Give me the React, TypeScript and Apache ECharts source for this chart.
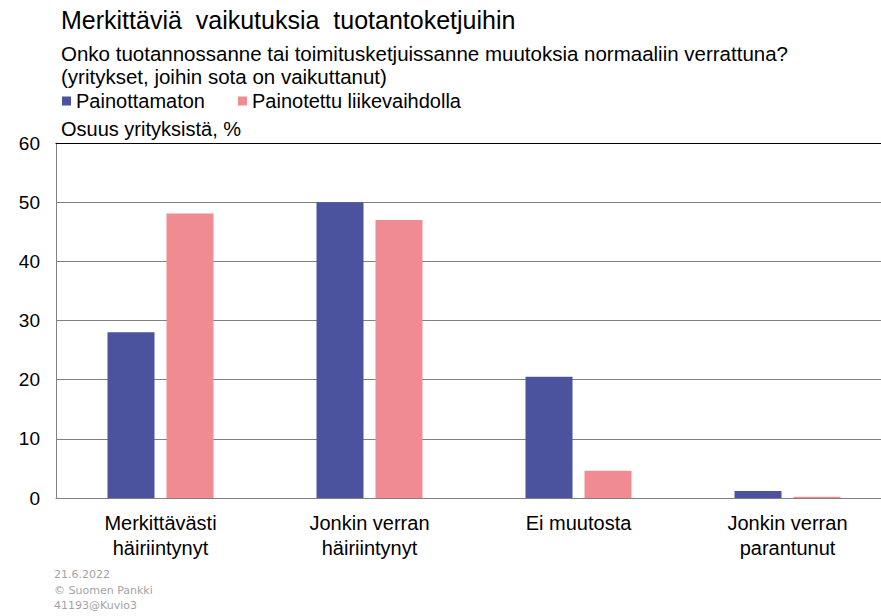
import React, { useEffect, useRef } from "react";
import * as echarts from "echarts";

const categories = ["Merkittävästi\nhäiriintynyt", "Jonkin verran\nhäiriintynyt", "Ei muutosta", "Jonkin verran\nparantunut"];
const seriesNames = ["Painottamaton", "Painotettu liikevaihdolla"];
const unweighted = [28, 50, 20.5, 1.2];
const weighted = [48.1, 47, 4.6, 0.2];
const yTicks = { min: 0, max: 60, interval: 10 };
const titleText = "Merkittäviä  vaikutuksia  tuotantoketjuihin";
const subtitleLines = [
  "Onko tuotannossanne tai toimitusketjuissanne muutoksia normaaliin verrattuna?",
  "(yritykset, joihin sota on vaikuttanut)",
];
const unitLabel = "Osuus yrityksistä, %";
const footerLines = ["21.6.2022", "© Suomen Pankki", "41193@Kuvio3"];

const BLUE = "#4b539f";
const PINK = "#ef8b91";
const FONT = "'Liberation Sans', Arial, sans-serif";

export default function App() {
  const ref = useRef<HTMLDivElement>(null);
  useEffect(() => {
    if (!ref.current) return;
    const chart = echarts.init(ref.current, null, { renderer: "svg" });
    const ts = (size: number) => ({ fontSize: size, fontWeight: "normal", color: "#000", fontFamily: FONT });
    chart.setOption({
      animation: false,
      backgroundColor: "#ffffff",
      textStyle: { fontFamily: FONT },
      title: [
        { text: titleText, left: 61, top: 7, padding: 0, textStyle: ts(25) },
        { text: subtitleLines[0], left: 61, top: 43, padding: 0, textStyle: ts(20.5) },
        { text: subtitleLines[1], left: 61, top: 66, padding: 0, textStyle: ts(20.5) },
        { text: unitLabel, left: 61, top: 119, padding: 0, textStyle: ts(20) },
      ],
      legend: {
        left: 62,
        top: 91,
        padding: 0,
        icon: "rect",
        itemWidth: 9,
        itemHeight: 9,
        itemGap: 33,
        textStyle: { fontSize: 20, color: "#000", fontFamily: FONT },
        data: seriesNames,
      },
      grid: { left: 56, width: 836, top: 143, bottom: 118, containLabel: false, outerBoundsMode: "none" },
      xAxis: [
        {
          type: "category",
          data: categories,
          axisLine: { lineStyle: { color: "#808080", width: 1 } },
          axisTick: { show: false },
          axisLabel: { fontSize: 20, color: "#000", lineHeight: 25, margin: 12, fontFamily: FONT, interval: 0 },
        },
        {
          type: "category",
          position: "top",
          data: categories,
          axisLine: { show: true, lineStyle: { color: "#000", width: 1.2 } },
          axisTick: { show: false },
          axisLabel: { show: false },
        },
      ],
      yAxis: {
        type: "value",
        min: yTicks.min,
        max: yTicks.max,
        interval: yTicks.interval,
        axisLine: { show: true, lineStyle: { color: "#808080" } },
        axisTick: { show: false },
        splitLine: { lineStyle: { color: "#808080", width: 1 } },
        axisLabel: { fontSize: 19, color: "#000", margin: 16, fontFamily: FONT },
      },
      series: [
        { name: seriesNames[0], type: "bar", data: unweighted, itemStyle: { color: BLUE }, barWidth: 47, barGap: "25.5%" },
        { name: seriesNames[1], type: "bar", data: weighted, itemStyle: { color: PINK }, barWidth: 47, barGap: "25.5%" },
      ],
      graphic: footerLines.map((t, i) => ({
        type: "text",
        left: 54,
        top: 569 + i * 15.5,
        style: { text: t, fontSize: 11, fill: "#a3a3a3", fontFamily: "'DejaVu Sans', sans-serif" },
      })),
    });
    return () => chart.dispose();
  }, []);
  return <div ref={ref} style={{ width: 881, height: 616, position: "absolute", left: 0, top: 0 }} />;
}
